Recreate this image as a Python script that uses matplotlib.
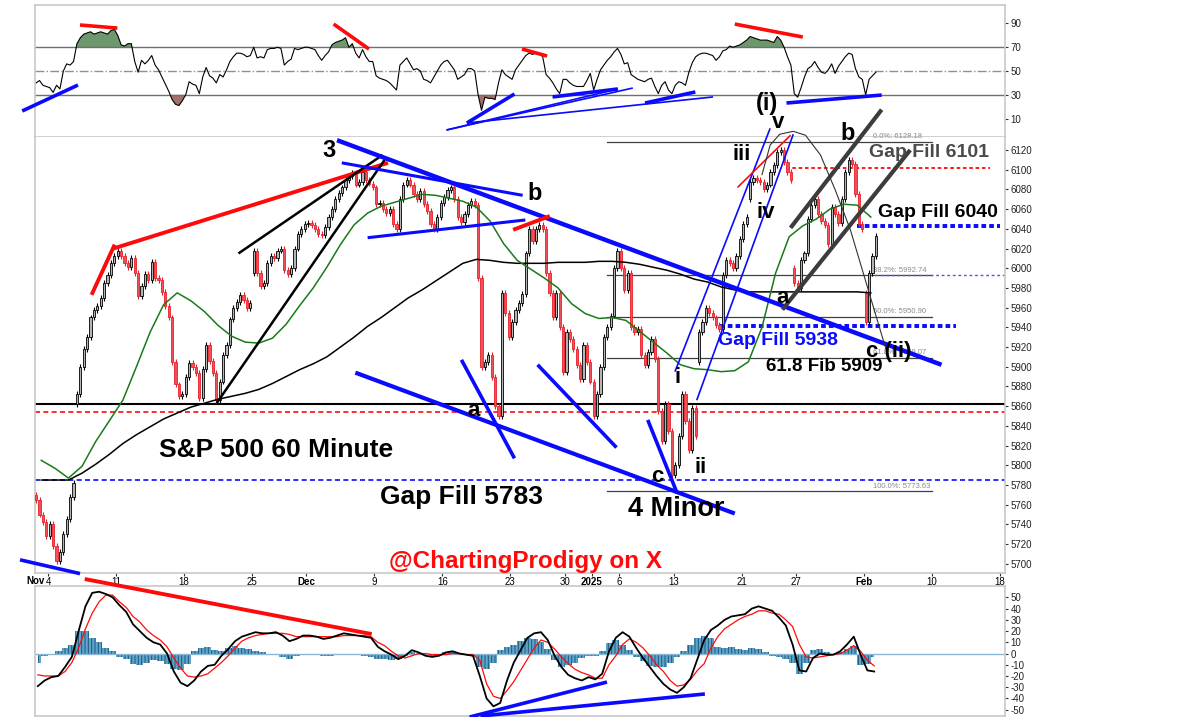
# -*- coding: utf-8 -*-
import matplotlib
matplotlib.use("Agg")
import matplotlib.pyplot as plt
import matplotlib.transforms as mtransforms
import numpy as np

# S&P 500, 60 minute chart. x axis counts trading days (0 = Nov 4),
# price / rsi read as 4 bars per day starting with Nov 1 (day -1).
closes = [
    5765, 5750, 5742, 5728,  5740, 5718, 5703, 5712,  5730, 5745, 5768, 5782,
    5872, 5900, 5918, 5930,  5950, 5958, 5962, 5970,  5985, 5993, 6005, 6012,
    6018, 6012, 6005, 6001,  6010, 5995, 5972, 5982,  5994, 5988, 6006, 5990,
    5988, 5976, 5962, 5950,  5905, 5882, 5870, 5872,  5890, 5904, 5900, 5894,
    5868, 5898, 5922, 5906,  5894, 5866, 5885, 5912,  5922, 5948, 5960, 5966,
    5973, 5968, 5960, 5965,  6018, 5995, 5982, 5985,  6005, 6012, 6010, 6018,
    6020, 5998, 5994, 6000,  6020, 6035, 6040, 6045,  6046, 6044, 6040, 6035,
    6034, 6042, 6052, 6060,  6070, 6076, 6082, 6090,  6094, 6097, 6085, 6088,
    6098, 6090, 6086, 6082,  6065, 6066, 6060, 6056,  6060, 6045, 6040, 6070,
    6085, 6090, 6085, 6075,  6070, 6078, 6065, 6058,  6045, 6040, 6052, 6066,
    6072, 6079, 6082, 6070,  6052, 6047, 6055, 6064,  6068, 6064, 5990, 5900,
    5905, 5912, 5890, 5860,  5850, 5975, 5955, 5930,  5945, 5958, 5965, 5974,
    6015, 6040, 6028, 6040,  6044, 6040, 5995, 5975,  5950, 5975, 5940, 5895,
    5935, 5928, 5918, 5902,  5888, 5922, 5905, 5885,  5850, 5872, 5900, 5930,
    5940, 5952, 6000, 6018,  6000, 5978, 5995, 5940,  5935, 5938, 5912, 5902,
    5915, 5928, 5908, 5855,  5825, 5862, 5835, 5790,  5800, 5830, 5872, 5845,
    5815, 5858, 5830, 5935,  5945, 5960, 5955, 5950,  5942, 5938, 5993, 6008,
    6005, 6000, 6012, 6030,  6045, 6052, 6088, 6092,  6090, 6088, 6080, 6085,
    6098, 6105, 6118, 6120,  6108, 6098, 6090, 5985,  5980, 6008, 6015, 6050,
    6064, 6070, 6055, 6048,  6044, 6025, 6062, 6055,  6046, 6070, 6098, 6110,
    6106, 6075, 6045, 6040,  5945, 5995, 6012, 6033,
]
# bars that opened on a gap (bar index: open)
gap_opens = {12: 5862, 64: 5995, 195: 5905, 210: 6070, 223: 6000, 244: 5975}

rsi = [
    40, 42, 38, 37,  36, 32, 38, 35,  50, 56, 55, 58,  73, 78, 81, 82,
    83, 81, 82, 83,  82, 81, 84, 85,  80, 72, 71, 73,  73, 58, 49, 59,
    56, 59, 63, 55,  51, 45, 39, 33,  26, 22, 21, 25,  30, 41, 39, 38,
    31, 45, 53, 46,  44, 40, 47, 45,  51, 58, 62, 65,  65, 64, 62, 63,
    70, 61, 62, 61,  68, 69, 69, 70,  69, 55, 58, 60,  69, 68, 69, 70,
    70, 69, 68, 63,  59, 63, 66, 72,  74, 75, 76, 78,  70, 73, 65, 61,
    68, 62, 58, 58,  46, 44, 43, 42,  40, 37, 34, 55,  58, 61, 56, 51,
    52, 50, 43, 42,  40, 45, 50, 55,  58, 59, 55, 51,  43, 45, 47, 52,
    52, 50, 30, 17,  28, 27, 27, 26,  40, 51, 47, 45,  43, 51, 55, 59,
    63, 65, 64, 65,  65, 62, 47, 44,  40, 35, 31, 43,  43, 40, 38, 37,
    37, 37, 42, 48,  34, 43, 51, 55,  59, 62, 66, 69,  64, 56, 57, 47,
    45, 43, 42, 41,  43, 44, 37, 31,  38, 41, 34, 31,  38, 41, 40, 38,
    49, 57, 62, 64,  65, 65, 64, 63,  59, 62, 67, 68,  71, 70, 71, 72,
    74, 76, 79, 78,  77, 76, 76, 76,  75, 74, 79, 76,  70, 62, 55, 31,
    28, 36, 45, 52,  54, 58, 53, 49,  48, 51, 56, 48,  54, 58, 62, 65,
    64, 52, 45, 43,  30, 43, 46, 49,
]

# macd panel, 2 values per day
macd_line = [
    -29, -24, -21, -20, -12, -3, 20, 42, 54, 55, 53, 50, 43, 37, 26, 20,
    14, 10, 8, 0, -16, -26, -29, -24, -16, -11, -10, -2, 4, 11, 15, 17,
    19, 18, 18, 19, 16, 11, 13, 16, 16, 15, 13, 14, 16, 18, 17, 16,
    15, 14, 6, 2, -1, -5, -2, 3, 1, -2, -3, -2, 1, 2, 0, -1,
    -2, -20, -40, -47, -44, -24, -8, 3, 14, 18, 19, 12, -2, -12, -19, -22,
    -24, -21, -23, -18, 2, 14, 19, 15, 5, -4, -12, -20, -27, -32, -35, -30,
    -22, -5, 12, 21, 25, 30, 33, 34, 35, 40, 42, 40, 38, 32, 25, 8,
    -15, -16, -4, 0, -1, -1, 2, 8, 15, -1, -15, -16,
]
signal_line = [
    -19, -20, -20, -20, -16, -8, 5, 22, 36, 46, 52, 52, 46, 41, 33, 28,
    21, 16, 12, 6, -4, -13, -20, -21, -20, -18, -13, -8, -2, 5, 11, 14,
    16, 17, 18, 18, 18, 17, 15, 15, 15, 15, 15, 15, 15, 16, 16, 16,
    16, 15, 10, 7, 2, -2, -4, -2, 0, 0, -1, -1, -1, 0, 0, -1,
    -1, -6, -27, -38, -40, -33, -25, -15, -5, 5, 12, 10, 4, -3, -9, -14,
    -17, -19, -22, -22, -10, -2, 8, 13, 10, 5, -2, -10, -16, -24, -29, -28,
    -23, -15, -9, 5, 15, 22, 26, 30, 33, 35, 38, 38, 36, 35, 30, 24,
    8, -3, -4, -3, -2, -1, 0, 3, 7, 2, -6, -11,
]
macd_hist = [
    -8, -2, 0, 2, 5, 8, 20, 20, 14, 10, 5, 2, -3, -5, -9, -10,
    -8, -6, -7, -9, -14, -15, -9, 2, 5, 6, 3, 2, 5, 7, 5, 4,
    2, 1, 0, 0, -3, -5, -2, -1, -1, -1, -2, -2, -1, -1, -1, -1,
    -2, -3, -5, -5, -6, -5, -2, 1, 0, -1, -2, -1, 1, 1, 0, 0,
    -2, -12, -14, -8, 3, 6, 8, 11, 14, 13, 10, 4, -6, -12, -10, -8,
    -4, -2, -2, 2, 9, 12, 8, 3, -3, -7, -11, -12, -12, -8, -3, 2,
    8, 14, 16, 14, 6, 5, 6, 4, 3, 5, 4, 1, -2, -3, -5, -8,
    -18, -8, 3, 4, 1, 0, 1, 4, 7, -10, -9, -3,
]

# moving averages on the price panel, one value per day
ma_green = [
    5805, 5797, 5787, 5799, 5824, 5845, 5866, 5900, 5935, 5963, 5975, 5967,
    5956, 5942, 5931, 5925, 5924, 5929, 5943, 5962, 5980, 6001, 6024, 6044,
    6056, 6063, 6067, 6071, 6075, 6074, 6071, 6068, 6062, 6048, 6025, 6008,
    5999, 5990, 5980, 5964, 5954, 5949, 5950, 5947, 5936, 5925, 5914, 5902,
    5898, 5897, 5895, 5896, 5905, 5940, 5995, 6032, 6043, 6050, 6060, 6065,
    6064, 6052,
]
ma_black = [
    5785, 5785, 5785, 5792, 5801, 5811, 5822, 5831, 5839, 5847, 5853, 5859,
    5863, 5867, 5870, 5873, 5877, 5883, 5890, 5897, 5903, 5910, 5920, 5930,
    5941, 5950, 5960, 5970, 5978, 5987, 5996, 6005, 6009, 6008, 6006, 6005,
    6005, 6005, 6006, 6006, 6006, 6007, 6007, 6006, 6004, 6001, 5998, 5994,
    5989, 5986, 5981, 5978, 5976, 5976, 5976, 5976, 5976, 5976, 5976, 5976,
    5976, 5975,
]

day_ticks = [0, 5, 10, 15, 19, 24, 29, 34, 38, 40, 42, 46, 51, 55, 60, 65, 70]
day_labels = ['4', '11', '18', '25', 'Dec', '9', '16', '23', '30', '2025',
              '6', '13', '21', '27', 'Feb', '10', '18']
bold_labels = ['Dec', '2025', 'Feb']

# fibonacci retracement of the (i) wave
fib_levels = [6128.18, 5992.74, 5950.90, 5909.07, 5773.63]
fib_names = ['0.0%', '38.2%', '50.0%', '61.8%', '100.0%']

BLUE = '#0a0aff'
RED = '#ff0a0a'
FONT = ['Liberation Sans', 'DejaVu Sans']

# hand drawn trend lines: (x0, y0, x1, y1, colour, width)
main_lines = [
    (3.2, 5973, 4.9, 6024, RED, 2.8),
    (4.8, 6020, 25.0, 6107, RED, 2.8),
    (14.0, 6015, 24.6, 6115, 'black', 1.8),
    (12.4, 5863, 24.9, 6113, 'black', 1.8),
    (21.25, 6130, 65.7, 5902, BLUE, 3.2),
    (21.6, 6107, 34.9, 6074, BLUE, 2.2),
    (23.5, 6031, 35.1, 6049, BLUE, 2.2),
    (34.2, 6039, 36.9, 6053, RED, 2.8),
    (22.6, 5894, 50.5, 5751, BLUE, 3.0),
    (30.4, 5907, 34.3, 5807, BLUE, 2.6),
    (36.0, 5902, 41.8, 5818, BLUE, 2.6),
    (44.1, 5846, 46.25, 5772, BLUE, 2.6),
    (46.1, 5895, 53.1, 6142, BLUE, 1.2),
    (47.7, 5866, 54.8, 6136, BLUE, 1.2),
    (50.7, 6082, 54.6, 6135, RED, 1.2),
    (54.6, 6041, 61.3, 6161, '#3c3c3c', 3.0),
    (54.0, 5958, 63.4, 6120, '#3c3c3c', 3.0),
    (-2.06, 5704, 2.35, 5690, BLUE, 2.6),
]
arc_x = [52.5, 53.1, 53.8, 54.8, 55.7, 56.8, 57.9, 59.0, 60.1, 61.2, 61.9]
arc_y = [6095, 6125, 6136, 6139, 6135, 6115, 6079, 6039, 5988, 5937, 5905]

rsi_lines = [
    (-1.9, 16.4, 2.2, 38.2, BLUE, 2.6),
    (2.35, 88.7, 5.1, 86.1, RED, 2.6),
    (21.0, 89.5, 23.6, 68.5, RED, 2.6),
    (34.85, 68.5, 36.7, 62.6, RED, 2.6),
    (50.5, 89.5, 55.5, 78.6, RED, 2.6),
    (30.8, 6.3, 34.3, 30.7, BLUE, 2.6),
    (29.3, 0.4, 41.9, 34.9, BLUE, 1.2),
    (29.3, 0.4, 43.0, 35.7, BLUE, 1.2),
    (30.8, 6.3, 48.9, 28.2, BLUE, 1.2),
    (37.1, 28.2, 41.9, 34.9, BLUE, 2.6),
    (43.9, 23.1, 47.6, 32.4, BLUE, 2.6),
    (54.3, 23.1, 61.3, 29.8, BLUE, 2.6),
]
macd_lines = [
    (2.7, 66.3, 23.8, 17.3, RED, 2.8),
    (31.0, -56.5, 41.1, -25.4, BLUE, 2.6),
    (31.8, -55.6, 48.3, -36.0, BLUE, 2.6),
]


def style_axis(ax, ylim, ticks):
    ax.set_xlim(-0.956, 70.37)
    ax.set_ylim(*ylim)
    ax.yaxis.tick_right()
    ax.set_yticks(ticks)
    ax.tick_params(axis='y', labelsize=7, length=2, pad=2, colors='#333333',
                   labelcolor='#222222')
    for s in ax.spines.values():
        s.set_color('#c8c8c8')
        s.set_linewidth(1.2)
    ax.set_facecolor('white')


def draw_lines(ax, lines):
    for (x0, y0, x1, y1, c, w) in lines:
        ax.plot([x0, x1], [y0, y1], color=c, lw=w, solid_capstyle='butt',
                clip_on=False, zorder=6)


def draw_candles(ax, x, closes):
    closes = np.array(closes, dtype=float)
    opens = np.concatenate([[closes[0] + 5], closes[:-1]])
    for i, o in gap_opens.items():
        opens[i] = o
    up = closes >= opens
    lo = np.minimum(opens, closes)
    hi = np.maximum(opens, closes)
    wick = 3.0
    ax.vlines(x[up], lo[up] - wick, hi[up] + wick, color='black', lw=0.8, zorder=3)
    ax.vlines(x[~up], lo[~up] - wick, hi[~up] + wick, color='#e8202a', lw=0.8, zorder=3)
    ax.bar(x[up], np.maximum(hi[up] - lo[up], 1.0), bottom=lo[up], width=0.16,
           color='#b4b4b4', edgecolor='black', lw=0.6, zorder=4)
    ax.bar(x[~up], np.maximum(hi[~up] - lo[~up], 1.0), bottom=lo[~up], width=0.16,
           color='#f05058', edgecolor='#e8202a', lw=0.6, zorder=4)


def main():
    plt.rcParams['font.family'] = FONT
    plt.rcParams['hatch.linewidth'] = 0.7
    plt.rcParams['axes.unicode_minus'] = False

    x_bar = np.arange(len(closes)) * 0.25 - 1 + 0.125
    x_half = np.arange(len(macd_line)) * 0.5 - 1 + 0.25
    x_day = np.arange(len(ma_green)) - 1 + 0.5

    fig = plt.figure(figsize=(12, 7.17), dpi=100)
    ax_rsi = fig.add_axes([0.0292, 0.8089, 0.8083, 0.1841])
    ax = fig.add_axes([0.0292, 0.2008, 0.8083, 0.6081])
    ax_macd = fig.add_axes([0.0292, 0.0014, 0.8083, 0.1813])

    # --- RSI panel
    style_axis(ax_rsi, (-5.5, 105.5), [10, 30, 50, 70, 90])
    ax_rsi.set_xticks([])
    r = np.array(rsi, dtype=float)
    ax_rsi.axhline(70, color='#707070', lw=1.0)
    ax_rsi.axhline(30, color='#707070', lw=1.0)
    ax_rsi.axhline(50, color='#909090', lw=1.0, ls='-.')
    ax_rsi.fill_between(x_bar, r, 70, where=r > 70, interpolate=True,
                        color='#6e976e', lw=0)
    ax_rsi.fill_between(x_bar, r, 30, where=r < 30, interpolate=True,
                        color='#a4706c', lw=0)
    ax_rsi.plot(x_bar, r, color='black', lw=0.8)
    draw_lines(ax_rsi, rsi_lines)

    # --- price panel
    style_axis(ax, (5690.6, 6133.2), np.arange(5700, 6121, 20))
    ax.spines['top'].set_visible(False)
    ax.set_xticks(day_ticks)
    ax.set_xticklabels(day_labels)
    ax.tick_params(axis='x', labelsize=7, length=2, pad=1, colors='#333333',
                   labelcolor='black')
    for lab in ax.get_xticklabels():
        if lab.get_text() in bold_labels:
            lab.set_fontweight('bold')
    trans = mtransforms.blended_transform_factory(ax.transData, ax.transAxes)
    ax.text(-0.25, -0.006, 'Nov', transform=trans, ha='right', va='top',
            fontsize=7, fontweight='bold')

    ax.axhline(5862, color='black', lw=1.5, zorder=2)
    ax.axhline(5854, color=RED, lw=1.2, ls=(0, (3, 2)), zorder=2)
    ax.axhline(5785, color=BLUE, lw=1.2, ls=(0, (3, 2)), zorder=2)

    for lev, name in zip(fib_levels, fib_names):
        ax.plot([41.1, 65.0], [lev, lev], color='#404040', lw=0.9, zorder=2)
        ax.text(60.7, lev + 1.5, '%s: %.2f' % (name, lev), fontsize=5.5,
                color='#8a8a8a', va='bottom', ha='left', zorder=2)
    ax.plot([60.4, 70.37], [5992.7, 5992.7], color='#5050ff', lw=1.0,
            ls=(0, (2, 2)), zorder=2)
    ax.plot([54.3, 69.3], [6102, 6102], color=RED, lw=1.3, ls=(0, (2, 1.5)), zorder=2)
    ax.plot([59.5, 70.0], [6043, 6043], color=BLUE, lw=2.8, ls=(0, (1.2, 0.8)), zorder=2)
    ax.plot([49.4, 66.8], [5941, 5941], color=BLUE, lw=2.8, ls=(0, (1.2, 0.8)), zorder=2)

    ax.plot(x_day, ma_black, color='black', lw=1.1, zorder=5)
    ax.plot(x_day, ma_green, color='#1a7a1a', lw=1.1, zorder=5)
    draw_candles(ax, x_bar, closes)
    draw_lines(ax, main_lines)
    ax.plot(arc_x, arc_y, color='#333333', lw=0.8, clip_on=False, zorder=6)

    labels = [
        (20.7, 6120, '3', 17), (35.8, 6076, 'b', 17), (31.3, 5856, 'a', 16),
        (44.8, 5789, 'c', 16), (46.3, 5889, 'i', 16), (48.0, 5798, 'ii', 16),
        (51.0, 6115, 'iii', 16), (52.8, 6057, 'iv', 16), (53.7, 6148, 'v', 16),
        (52.9, 6167, '(i)', 17), (58.8, 6137, 'b', 17), (54.0, 5970, 'a', 16),
        (61.8, 5915, 'c (ii)', 16),
    ]
    for (tx, ty, s, size) in labels:
        ax.text(tx, ty, s, ha='center', va='center', fontsize=size,
                fontweight='bold', color='black', zorder=7, clip_on=False)

    ax.text(16.8, 5815, 'S&P 500 60 Minute', ha='center', va='center',
            fontsize=19, fontweight='bold', zorder=7)
    ax.text(30.4, 5768, 'Gap Fill 5783', ha='center', va='center',
            fontsize=19, fontweight='bold', zorder=7)
    ax.text(46.2, 5756, '4 Minor', ha='center', va='center',
            fontsize=19.5, fontweight='bold', zorder=7)
    ax.text(35.1, 5702, '@ChartingProdigy on X', ha='center', va='center',
            fontsize=17.5, fontweight='bold', color=RED, zorder=7)
    ax.text(60.4, 6117, 'Gap Fill 6101', ha='left', va='center',
            fontsize=14, fontweight='bold', color='#4a4a4a', zorder=7)
    ax.text(61.0, 6057, 'Gap Fill 6040', ha='left', va='center',
            fontsize=14, fontweight='bold', color='black', zorder=7)
    ax.text(49.3, 5927, 'Gap Fill 5938', ha='left', va='center',
            fontsize=14, fontweight='bold', color=BLUE, zorder=7)
    ax.text(52.8, 5900, '61.8 Fib 5909', ha='left', va='center',
            fontsize=13.5, fontweight='bold', color='black', zorder=7)

    # --- MACD panel
    style_axis(ax_macd, (-55.6, 60.1), np.arange(-50, 51, 10))
    ax_macd.set_xticks([])
    ax_macd.fill_between(x_half, 0, macd_hist, step='mid', facecolor='#5ea4cc',
                         edgecolor='#1d5877', hatch='|||||', lw=0)
    ax_macd.axhline(0, color='#8ab8d4', lw=1.0)
    ax_macd.plot(x_half, signal_line, color=RED, lw=0.9)
    ax_macd.plot(x_half, macd_line, color='black', lw=1.3)
    draw_lines(ax_macd, macd_lines)

    fig.savefig('out.png', dpi=100)


if __name__ == "__main__":
    main()
